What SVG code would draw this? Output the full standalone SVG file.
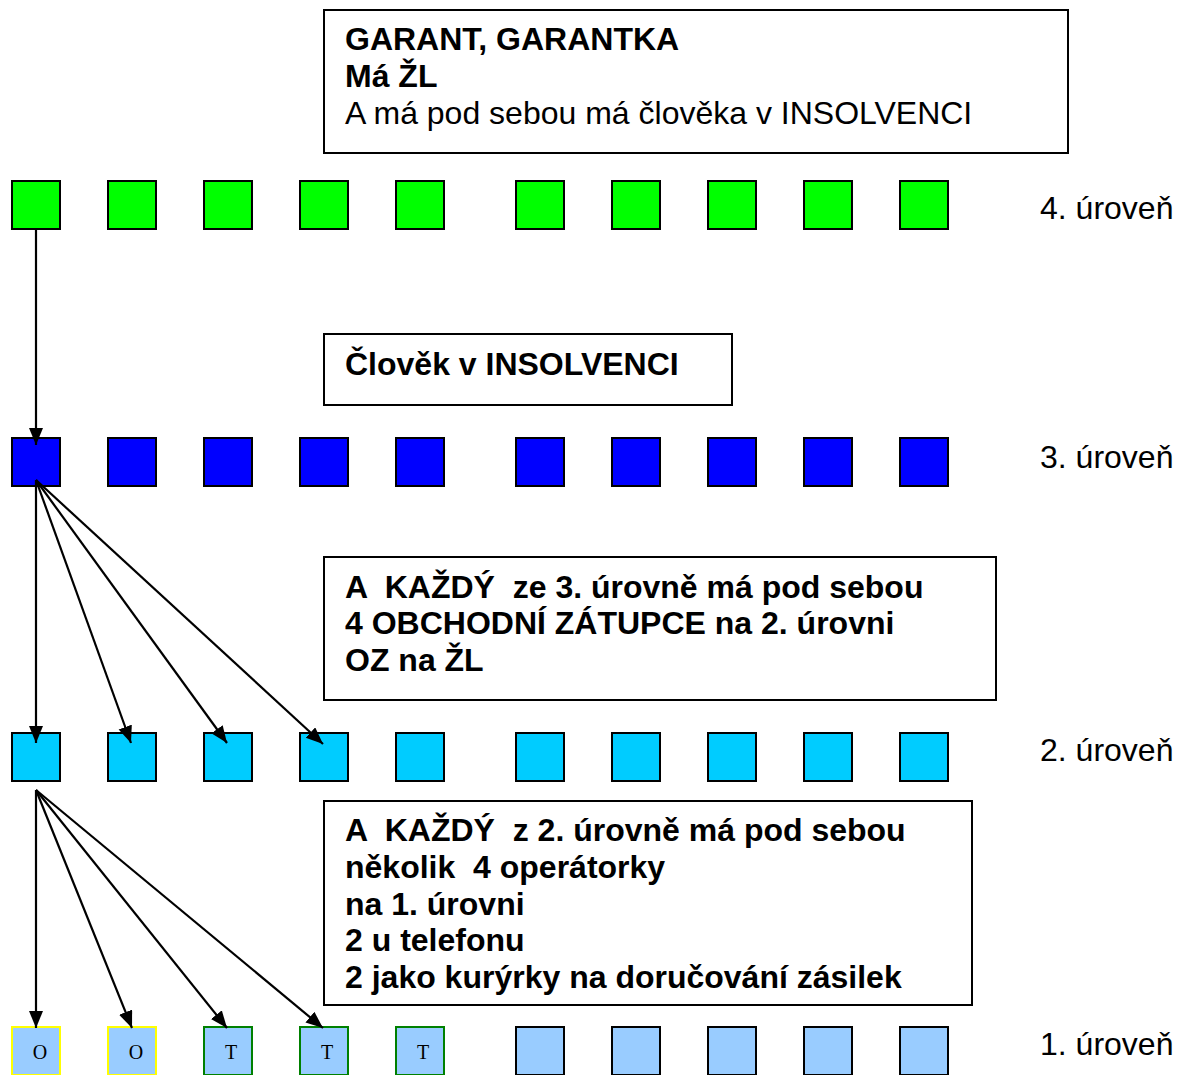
<svg xmlns="http://www.w3.org/2000/svg" width="1178" height="1075" viewBox="0 0 1178 1075">
<style>
.box{fill:#fff;stroke:#000;stroke-width:2}
.t{font-family:"Liberation Sans",Arial,sans-serif;font-size:32px;fill:#000;white-space:pre}
.b{font-weight:bold}
.lvl{font-family:"Liberation Sans",Arial,sans-serif;font-size:32px;fill:#000}
.sq{stroke:#000;stroke-width:2}
.g{fill:#00ff00}
.bl{fill:#0000ff}
.c{fill:#00ccff}
.lb{fill:#99ccff}
.let{font-family:"Liberation Serif","Times New Roman",serif;font-size:20px;fill:#000;text-anchor:middle}
.ar{stroke:#000;stroke-width:2.2;fill:none;marker-end:url(#ah)}
</style>
<defs>
<marker id="ah" markerUnits="userSpaceOnUse" markerWidth="18" markerHeight="16" refX="17" refY="7" orient="auto">
<path d="M0,0 L17,7 L0,14 z" fill="#000"/>
</marker>
</defs>
<g id="box-garant">
<rect class="box" x="324" y="10" width="744" height="143"/>
<text class="t b" x="345" y="50">GARANT, GARANTKA</text>
<text class="t b" x="345" y="87">Má ŽL</text>
<text class="t" x="345" y="124">A má pod sebou má člověka v INSOLVENCI</text>
</g>
<g id="box-insolvence">
<rect class="box" x="324" y="334" width="408" height="71"/>
<text class="t b" x="345" y="375">Člověk v INSOLVENCI</text>
</g>
<g id="box-kazdy3">
<rect class="box" x="324" y="557" width="672" height="143"/>
<text class="t b" x="345" y="598">A  KAŽDÝ  ze 3. úrovně má pod sebou</text>
<text class="t b" x="345" y="634">4 OBCHODNÍ ZÁTUPCE na 2. úrovni</text>
<text class="t b" x="345" y="671">OZ na ŽL</text>
</g>
<g id="box-kazdy2">
<rect class="box" x="324" y="801" width="648" height="204"/>
<text class="t b" x="345" y="841">A  KAŽDÝ  z 2. úrovně má pod sebou</text>
<text class="t b" x="345" y="878">několik  4 operátorky</text>
<text class="t b" x="345" y="915">na 1. úrovni</text>
<text class="t b" x="345" y="951">2 u telefonu</text>
<text class="t b" x="345" y="988">2 jako kurýrky na doručování zásilek</text>
</g>
<g id="level-labels">
<text class="lvl" x="1040" y="219">4. úroveň</text>
<text class="lvl" x="1040" y="468">3. úroveň</text>
<text class="lvl" x="1040" y="761">2. úroveň</text>
<text class="lvl" x="1040" y="1055">1. úroveň</text>
</g>
<g id="level4">
<rect class="sq g" x="12" y="181" width="48" height="48"/>
<rect class="sq g" x="108" y="181" width="48" height="48"/>
<rect class="sq g" x="204" y="181" width="48" height="48"/>
<rect class="sq g" x="300" y="181" width="48" height="48"/>
<rect class="sq g" x="396" y="181" width="48" height="48"/>
<rect class="sq g" x="516" y="181" width="48" height="48"/>
<rect class="sq g" x="612" y="181" width="48" height="48"/>
<rect class="sq g" x="708" y="181" width="48" height="48"/>
<rect class="sq g" x="804" y="181" width="48" height="48"/>
<rect class="sq g" x="900" y="181" width="48" height="48"/>
</g>
<g id="level3">
<rect class="sq bl" x="12" y="438" width="48" height="48"/>
<rect class="sq bl" x="108" y="438" width="48" height="48"/>
<rect class="sq bl" x="204" y="438" width="48" height="48"/>
<rect class="sq bl" x="300" y="438" width="48" height="48"/>
<rect class="sq bl" x="396" y="438" width="48" height="48"/>
<rect class="sq bl" x="516" y="438" width="48" height="48"/>
<rect class="sq bl" x="612" y="438" width="48" height="48"/>
<rect class="sq bl" x="708" y="438" width="48" height="48"/>
<rect class="sq bl" x="804" y="438" width="48" height="48"/>
<rect class="sq bl" x="900" y="438" width="48" height="48"/>
</g>
<g id="level2">
<rect class="sq c" x="12" y="733" width="48" height="48"/>
<rect class="sq c" x="108" y="733" width="48" height="48"/>
<rect class="sq c" x="204" y="733" width="48" height="48"/>
<rect class="sq c" x="300" y="733" width="48" height="48"/>
<rect class="sq c" x="396" y="733" width="48" height="48"/>
<rect class="sq c" x="516" y="733" width="48" height="48"/>
<rect class="sq c" x="612" y="733" width="48" height="48"/>
<rect class="sq c" x="708" y="733" width="48" height="48"/>
<rect class="sq c" x="804" y="733" width="48" height="48"/>
<rect class="sq c" x="900" y="733" width="48" height="48"/>
</g>
<g id="level1">
<rect class="lb" x="12" y="1027" width="48" height="48" stroke="#ffff00" stroke-width="2"/>
<rect class="lb" x="108" y="1027" width="48" height="48" stroke="#ffff00" stroke-width="2"/>
<rect class="lb" x="204" y="1027" width="48" height="48" stroke="#008000" stroke-width="2"/>
<rect class="lb" x="300" y="1027" width="48" height="48" stroke="#008000" stroke-width="2"/>
<rect class="lb" x="396" y="1027" width="48" height="48" stroke="#008000" stroke-width="2"/>
<rect class="sq lb" x="516" y="1027" width="48" height="48"/>
<rect class="sq lb" x="612" y="1027" width="48" height="48"/>
<rect class="sq lb" x="708" y="1027" width="48" height="48"/>
<rect class="sq lb" x="804" y="1027" width="48" height="48"/>
<rect class="sq lb" x="900" y="1027" width="48" height="48"/>
<text class="let" x="40" y="1059">O</text>
<text class="let" x="136" y="1059">O</text>
<text class="let" x="231" y="1059">T</text>
<text class="let" x="327" y="1059">T</text>
<text class="let" x="423" y="1059">T</text>
</g>
<g id="connectors">
<line class="ar" x1="36" y1="229" x2="36" y2="445"/>
<line class="ar" x1="36" y1="480" x2="36" y2="743"/>
<line class="ar" x1="36" y1="480" x2="131" y2="743"/>
<line class="ar" x1="36" y1="480" x2="227" y2="743"/>
<line class="ar" x1="36" y1="480" x2="323" y2="744"/>
<line class="ar" x1="36" y1="790" x2="36" y2="1028"/>
<line class="ar" x1="36" y1="790" x2="132" y2="1028"/>
<line class="ar" x1="36" y1="790" x2="227" y2="1028"/>
<line class="ar" x1="36" y1="790" x2="323" y2="1028"/>
</g>
</svg>
